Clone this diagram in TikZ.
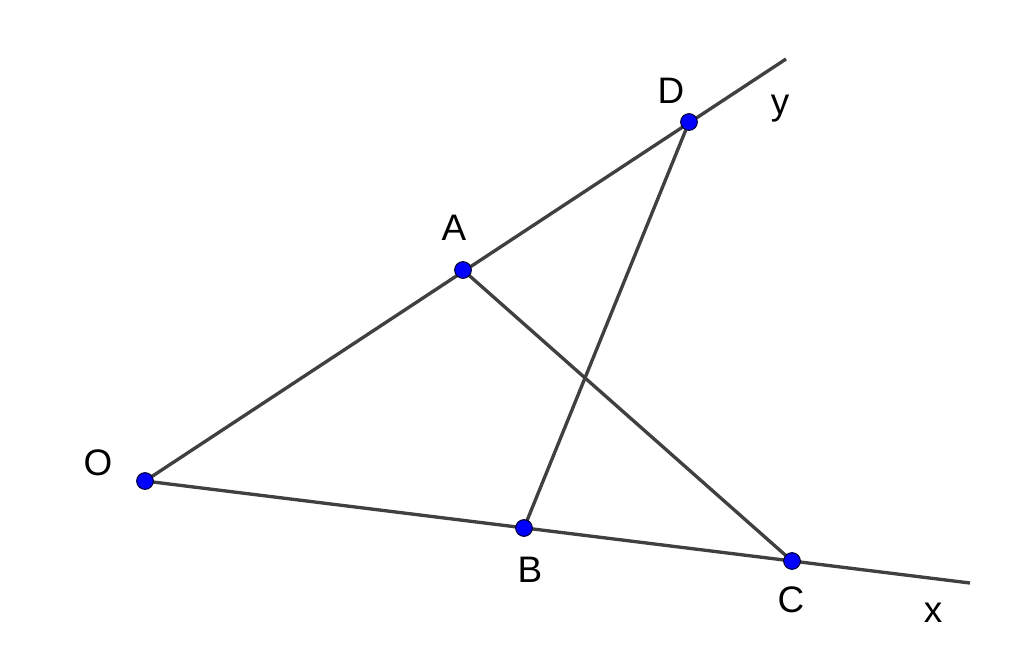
\documentclass[tikz,border=0pt]{standalone}
\usepackage{fontspec}
\setmainfont{Liberation Sans}
\definecolor{linegray}{RGB}{64,64,64}
\definecolor{ptblue}{RGB}{0,0,255}
\begin{document}
\begin{tikzpicture}[x=0.02cm,y=-0.02cm,
  seg/.style={draw=linegray,line width=1.9pt},
  pt/.style={circle,fill=ptblue,draw=black!80!blue,line width=0.6pt,inner sep=0pt,minimum size=9.5pt},
  lbl/.style={font=\fontsize{21}{25}\selectfont,inner sep=0pt}]
\useasboundingbox (0,0) rectangle (1024,667);
\coordinate (O) at (145,481);
\coordinate (A) at (463,270);
\coordinate (D) at (689,122);
\coordinate (B) at (524,528);
\coordinate (C) at (792,561);
\coordinate (Y) at (786,59);
\coordinate (X) at (970,583);
\draw[seg] (O) -- (Y);
\draw[seg] (O) -- (X);
\draw[seg] (A) -- (C);
\draw[seg] (D) -- (B);
\node[pt] (pO) at (O) {};
\node[pt] (pA) at (A) {};
\node[pt] (pD) at (D) {};
\node[pt] (pB) at (B) {};
\node[pt] (pC) at (C) {};
\node[lbl] (lO) at (98,463) {O};
\node[lbl] (lA) at (454,228) {A};
\node[lbl] (lD) at (671,91) {D};
\node[lbl] (ly) at (780,109) {y};
\node[lbl] (lB) at (530,570) {B};
\node[lbl] (lC) at (791,600) {C};
\node[lbl] (lx) at (933,613) {x};
\end{tikzpicture}
\end{document}
